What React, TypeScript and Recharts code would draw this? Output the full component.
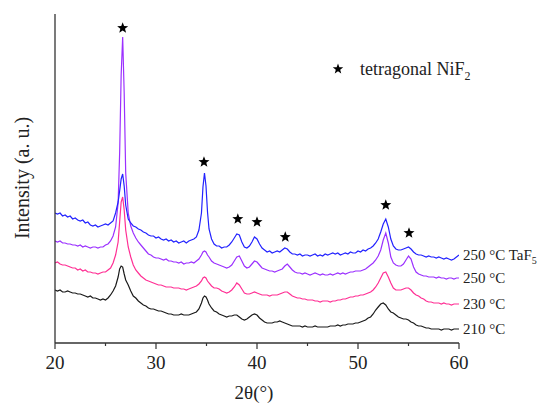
import React from 'react';
import { ComposedChart, Line, Scatter, XAxis, YAxis } from 'recharts';

// 2θ sampling positions (finer around the two sharp NiF2 reflections)
const twoTheta = [
  20, 20.25, 20.5, 20.75, 21, 21.25, 21.5, 21.75, 22, 22.25,
  22.5, 22.75, 23, 23.25, 23.5, 23.75, 24, 24.25, 24.5, 24.75,
  25, 25.25, 25.5, 25.75, 26, 26.25,
  26.4, 26.55, 26.7, 26.85, 27,
  27.25, 27.5, 27.75, 28, 28.25, 28.5, 28.75, 29, 29.25, 29.5,
  29.75, 30, 30.25, 30.5, 30.75, 31, 31.25, 31.5, 31.75, 32,
  32.25, 32.5, 32.75, 33, 33.25, 33.5, 33.75, 34, 34.25, 34.5,
  34.65, 34.8, 34.95, 35.1,
  35.25, 35.5, 35.75, 36, 36.25, 36.5, 36.75, 37, 37.25, 37.5,
  37.75, 38, 38.25, 38.5, 38.75, 39, 39.25, 39.5, 39.75, 40,
  40.25, 40.5, 40.75, 41, 41.25, 41.5, 41.75, 42, 42.25, 42.5,
  42.75, 43, 43.25, 43.5, 43.75, 44, 44.25, 44.5, 44.75, 45,
  45.25, 45.5, 45.75, 46, 46.25, 46.5, 46.75, 47, 47.25, 47.5,
  47.75, 48, 48.25, 48.5, 48.75, 49, 49.25, 49.5, 49.75, 50,
  50.25, 50.5, 50.75, 51, 51.25, 51.5, 51.75, 52, 52.25, 52.5,
  52.75, 53, 53.25, 53.5, 53.75, 54, 54.25, 54.5, 54.75, 55,
  55.25, 55.5, 55.75, 56, 56.25, 56.5, 56.75, 57, 57.25, 57.5,
  57.75, 58, 58.25, 58.5, 58.75, 59, 59.25, 59.5, 59.75, 60,
];

// 250 °C TaF5 (offset pattern, arbitrary units)
const taf250 = [
  130, 129, 130, 127, 128, 126, 127, 124, 125, 123,
  122, 123, 120, 121, 118, 117, 118, 116, 117, 118,
  119, 118, 120, 122, 130, 141,
  152, 164, 169, 157, 138,
  124, 120, 117, 116, 114, 113, 111, 110, 108, 107,
  107, 105, 106, 104, 103, 104, 102, 103, 101, 102,
  100, 101, 102, 100, 102, 103, 104, 106, 113, 130,
  156, 170, 157, 131,
  114, 104, 99, 97, 97, 95, 96, 96, 98, 101,
  105, 109, 108, 101, 96, 95, 97, 101, 106, 104,
  99, 95, 93, 91, 92, 90, 91, 92, 91, 93,
  95, 94, 91, 89, 89, 88, 89, 87, 88, 88,
  87, 88, 89, 87, 88, 87, 89, 88, 89, 90,
  89, 90, 88, 89, 90, 89, 91, 90, 90, 92,
  91, 93, 92, 94, 95, 97, 100, 104, 111, 119,
  124, 116, 104, 97, 94, 93, 93, 94, 95, 96,
  94, 91, 89, 88, 88, 87, 86, 87, 86, 86,
  85, 86, 85, 84, 85, 84, 83, 84, 86, 88,
];

// 250 °C
const t250 = [
  102, 101, 102, 100, 100, 99, 99, 98, 98, 97,
  98, 96, 97, 96, 95, 96, 96, 95, 96, 96,
  98, 99, 102, 107, 116, 140,
  190, 268, 306, 250, 170,
  130, 117, 110, 105, 101, 98, 95, 92, 89, 88,
  86, 85, 85, 84, 83, 84, 82, 82, 81, 81,
  80, 81, 79, 80, 80, 81, 80, 82, 84, 88,
  91, 92, 91, 88,
  86, 82, 80, 79, 78, 77, 76, 75, 76, 78,
  82, 86, 87, 82, 77, 75, 76, 79, 82, 81,
  78, 75, 74, 73, 72, 72, 71, 72, 73, 74,
  77, 79, 76, 73, 71, 70, 70, 69, 70, 69,
  68, 69, 70, 69, 68, 69, 68, 68, 69, 68,
  69, 70, 69, 70, 69, 70, 71, 71, 72, 72,
  72, 73, 74, 76, 78, 80, 83, 87, 93, 103,
  110, 100, 86, 80, 78, 77, 77, 79, 83, 87,
  84, 76, 71, 69, 68, 67, 67, 66, 66, 66,
  65, 66, 65, 65, 64, 65, 65, 64, 65, 65,
];

// 230 °C
const t230 = [
  80, 81, 79, 78, 78, 77, 76, 75, 75, 73,
  74, 72, 73, 71, 71, 70, 70, 69, 70, 71,
  71, 73, 75, 80, 88, 101,
  121, 141, 146, 133, 113,
  96, 86, 78, 73, 70, 67, 65, 63, 62, 61,
  60, 59, 58, 58, 57, 56, 56, 56, 55, 55,
  55, 54, 54, 53, 54, 55, 56, 57, 59, 62,
  65, 66, 65, 62,
  60, 57, 55, 55, 54, 52, 51, 50, 51, 53,
  56, 60, 58, 54, 50, 49, 49, 50, 51, 50,
  49, 48, 48, 48, 47, 48, 48, 48, 49, 50,
  51, 51, 49, 47, 46, 45, 45, 44, 44, 43,
  43, 43, 42, 42, 41, 42, 42, 42, 41, 42,
  42, 43, 43, 44, 44, 45, 46, 46, 47, 47,
  48, 48, 49, 50, 51, 53, 56, 60, 65, 70,
  71, 66, 60, 55, 53, 53, 53, 54, 55, 55,
  53, 50, 48, 47, 45, 44, 42, 41, 41, 40,
  40, 40, 39, 40, 39, 39, 38, 39, 39, 39,
];

// 210 °C
const t210 = [
  53, 52, 53, 51, 51, 52, 51, 50, 50, 49,
  49, 48, 47, 46, 47, 45, 45, 44, 43, 44,
  43, 45, 48, 52, 57, 66,
  74, 77, 76, 69, 63,
  58, 52, 47, 45, 42, 40, 38, 37, 35, 34,
  34, 33, 32, 32, 31, 30, 29, 29, 28, 28,
  28, 29, 28, 28, 28, 29, 30, 31, 34, 40,
  45, 47, 46, 43,
  39, 35, 32, 31, 29, 28, 27, 26, 27, 27,
  28, 28, 26, 24, 23, 24, 26, 28, 29, 28,
  25, 23, 21, 20, 20, 20, 21, 21, 22, 21,
  20, 19, 18, 17, 17, 17, 17, 16, 17, 16,
  16, 16, 17, 16, 16, 16, 16, 16, 17, 17,
  17, 18, 17, 18, 18, 19, 19, 19, 20, 20,
  21, 22, 23, 25, 26, 29, 33, 36, 39, 40,
  38, 34, 31, 30, 28, 26, 25, 24, 24, 23,
  21, 20, 18, 17, 17, 16, 15, 15, 14, 14,
  14, 14, 13, 14, 14, 14, 13, 14, 14, 14,
];

// peak markers (tetragonal NiF2)
const starX = [26.7, 34.75, 38.1, 40.0, 42.8, 52.75, 55.05];
const starY = [315, 181, 124, 121, 106, 138, 110];

const xTicks = [20, 25, 30, 35, 40, 45, 50, 55, 60];

const data = twoTheta.map((x, i) => ({
  x,
  taf250: taf250[i],
  t250: t250[i],
  t230: t230[i],
  t210: t210[i],
}));
const stars = starX.map((x, i) => ({ x, y: starY[i] }));

const FONT = '"Liberation Serif", "Times New Roman", serif';
const serif = { fontFamily: FONT };
const AXIS = '#333';

function starPath(cx: number, cy: number, R: number) {
  const r = R * 0.42;
  const pts: string[] = [];
  for (let k = 0; k < 10; k++) {
    const rad = k % 2 === 0 ? R : r;
    const a = -Math.PI / 2 + (k * Math.PI) / 5;
    pts.push(`${cx + rad * Math.cos(a)},${cy + rad * Math.sin(a)}`);
  }
  return pts.join(' ');
}

function StarShape(props: any) {
  const { cx, cy } = props;
  if (cx == null || cy == null) return null;
  return <polygon points={starPath(cx, cy, 5.8)} fill="#000" />;
}

function AxisTick({ x, y, payload }: any) {
  const major = payload.value % 10 === 0;
  return (
    <g>
      <line x1={x} x2={x} y1={y} y2={y + (major ? 6 : 3)} stroke={AXIS} strokeWidth={1.2} />
      {major && (
        <text x={x} y={y + 26} textAnchor="middle" fontSize={19} fill="#222" style={serif}>
          {payload.value}
        </text>
      )}
    </g>
  );
}

const endLabel = (text: string, sub?: string) => (p: any) => {
  if (p.index !== twoTheta.length - 1) return null;
  return (
    <text x={p.x + 4} y={p.y + 5} fontSize={15} fill="#222" style={serif}>
      {text}
      {sub && (
        <tspan dy={4} fontSize={10}>
          {sub}
        </tspan>
      )}
    </text>
  );
};

export default function App() {
  return (
    <div style={{ position: 'absolute', left: 0, top: 0, width: 540, height: 404, background: '#fff', ...serif }}>
      <ComposedChart width={540} height={404} data={data} margin={{ top: 14, right: 81, left: 0, bottom: 31 }}>
        <XAxis
          dataKey="x"
          type="number"
          domain={[20, 60]}
          ticks={xTicks}
          height={30}
          tickSize={0}
          tickMargin={0}
          tickLine={false}
          tick={<AxisTick />}
          axisLine={{ stroke: AXIS, strokeWidth: 1.3 }}
          allowDataOverflow
        />
        <YAxis
          type="number"
          domain={[0, 329]}
          width={55}
          tick={false}
          tickLine={false}
          axisLine={{ stroke: AXIS, strokeWidth: 1.3 }}
        />
        <Line
          dataKey="t210"
          stroke="#1a1a1a"
          strokeWidth={1.2}
          dot={false}
          type="linear"
          isAnimationActive={false}
          label={endLabel('210 °C')}
        />
        <Line
          dataKey="t230"
          stroke="#ff2f94"
          strokeWidth={1.2}
          dot={false}
          type="linear"
          isAnimationActive={false}
          label={endLabel('230 °C')}
        />
        <Line
          dataKey="t250"
          stroke="#9b30ff"
          strokeWidth={1.2}
          dot={false}
          type="linear"
          isAnimationActive={false}
          label={endLabel('250 °C')}
        />
        <Line
          dataKey="taf250"
          stroke="#2222ff"
          strokeWidth={1.2}
          dot={false}
          type="linear"
          isAnimationActive={false}
          label={endLabel('250 °C TaF', '5')}
        />
        <Scatter data={stars} dataKey="y" shape={<StarShape />} isAnimationActive={false} />
      </ComposedChart>
      <svg
        width={540}
        height={404}
        style={{ position: 'absolute', left: 0, top: 0, pointerEvents: 'none' }}
      >
        <text
          transform="translate(29,178) rotate(-90)"
          textAnchor="middle"
          fontSize={20}
          fill="#222"
          style={serif}
        >
          Intensity (a. u.)
        </text>
        <text x={254} y={399} textAnchor="middle" fontSize={19} fill="#222" style={serif}>
          2θ(°)
        </text>
        <polygon points={starPath(338, 69, 5.5)} fill="#000" />
        <text x={360} y={75} fontSize={18} fill="#222" style={serif}>
          tetragonal NiF
          <tspan dy={5} fontSize={12}>
            2
          </tspan>
        </text>
      </svg>
    </div>
  );
}
